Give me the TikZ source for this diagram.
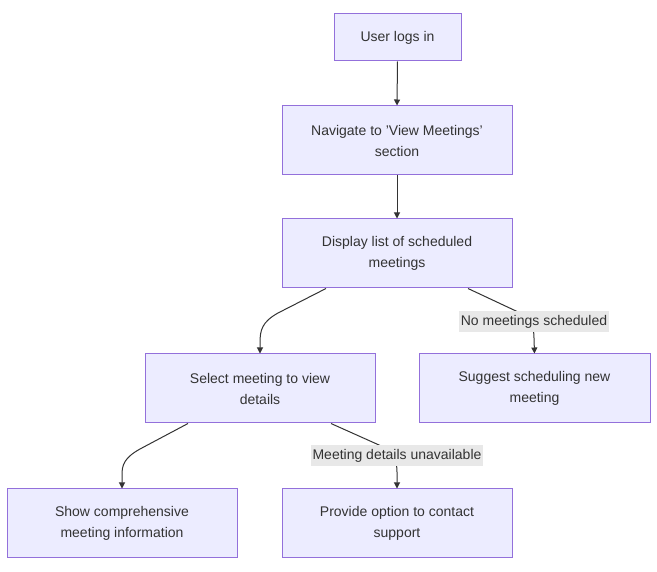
\documentclass[tikz,border=0pt]{standalone}
\usepackage{fontspec}
\setmainfont{Liberation Sans}
\usetikzlibrary{arrows.meta,calc}
\definecolor{boxfill}{HTML}{ECECFF}
\definecolor{boxdraw}{HTML}{9370DB}
\definecolor{edgecol}{HTML}{333333}
\definecolor{lblbg}{HTML}{E8E8E8}
\begin{document}
\begin{tikzpicture}[x=1pt,y=-1pt,
  box/.style={draw=boxdraw,fill=boxfill,line width=1pt,align=center,inner sep=0pt,
    text=edgecol,font=\fontsize{14}{21}\selectfont},
  edge/.style={draw=edgecol,line width=1pt,-{Triangle[length=6pt,width=6pt]}},
  elabel/.style={fill=lblbg,text=edgecol,inner sep=1.5pt,font=\fontsize{14}{16}\selectfont,
    minimum height=21pt}]
\useasboundingbox (0,0) rectangle (657,572);
\node[box,minimum width=127pt,minimum height=47pt] (A) at (397.5,37.5) {User logs in};
\node[box,minimum width=230pt,minimum height=69pt] (B) at (397,140.5) {Navigate to 'View Meetings'\\section};
\node[box,minimum width=230pt,minimum height=69pt] (C) at (397,253.5) {Display list of scheduled\\meetings};
\node[box,minimum width=230pt,minimum height=69pt] (D) at (260,388.5) {Select meeting to view\\details};
\node[box,minimum width=231pt,minimum height=69pt] (E) at (534.5,388.5) {Suggest scheduling new\\meeting};
\node[box,minimum width=230pt,minimum height=68pt] (F) at (122,523) {Show comprehensive\\meeting information};
\node[box,minimum width=230pt,minimum height=68pt] (G) at (397,523) {Provide option to contact\\support};

\draw[edge] (A.south) -- (B.north);
\draw[edge] (B.south) -- (C.north);
\draw[edge] ([xshift=-71pt]C.south) -- (278,313) .. controls (262,322) and (260,330) .. (260,343) -- (D.north);
\draw[edge] ([xshift=71pt]C.south) -- (516,311) .. controls (530,318) and (534,326) .. (534,338) -- (E.north);
\draw[edge] ([xshift=-72pt]D.south) -- (140,449) .. controls (124,458) and (122,465) .. (122,475) -- (F.north);
\draw[edge] ([xshift=71pt]D.south) -- (379,445) .. controls (393,452) and (397,460) .. (397,472) -- (G.north);

\node[elabel] (L1) at (534,321.5) {No meetings scheduled};
\node[elabel] (L2) at (397,455.5) {Meeting details unavailable};
\end{tikzpicture}
\end{document}
